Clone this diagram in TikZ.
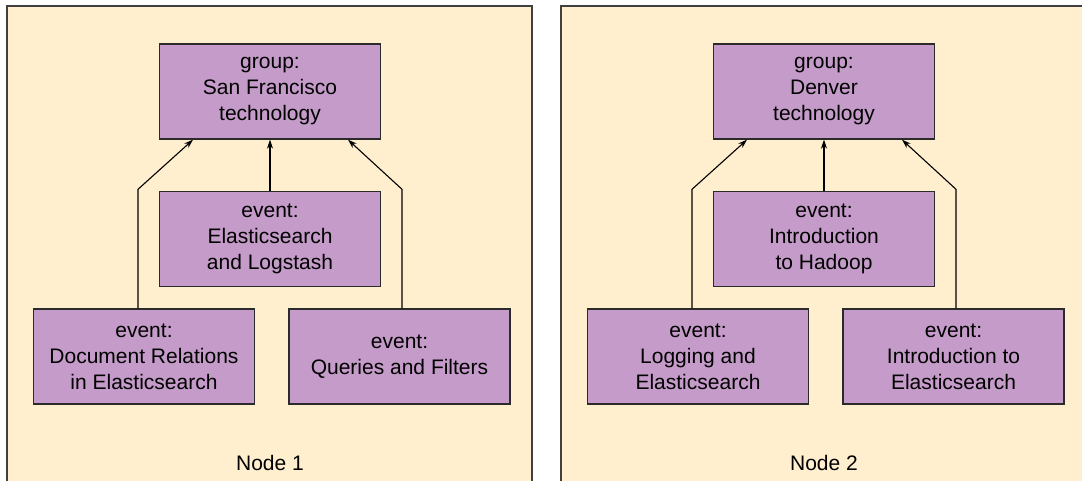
\documentclass[tikz,border=0pt]{standalone}
\usepackage{fontspec}
\setmainfont{Liberation Sans}
\usetikzlibrary{arrows.meta}
\definecolor{panel-bg}{HTML}{FFEFCF}
\definecolor{panel-line}{HTML}{404040}
\definecolor{box-fill}{HTML}{C59BC9}
\definecolor{box-line}{HTML}{2B2B2B}

\begin{document}
\begin{tikzpicture}[x=1pt, y=-1pt,
      every node/.style={font=\fontsize{21pt}{26pt}\selectfont},
      panel/.style={draw=panel-line, line width=2pt, fill=panel-bg},
      evbox/.style={draw=box-line, line width=1.4pt, fill=box-fill,
          minimum width=221pt, minimum height=95pt, align=center, inner sep=0pt},
      arr/.style={-{Stealth[length=9pt, width=6pt]}, line width=1.1pt}]
    \useasboundingbox (0,0) rectangle (1082,481);
    \clip (0,0) rectangle (1082,481);
    % two cluster nodes
    \draw[panel] (7,6) rectangle (532,500);
    \draw[panel] (561,6) rectangle (1090,500);

    % node 1
    \node[evbox] (grpSF) at (270,91.5) {group:\\San Francisco\\technology};
    \node[evbox] (evELK) at (270,239) {event:\\Elasticsearch\\and Logstash};
    \node[evbox] (evDoc) at (144,356.5) {event:\\Document Relations\\in Elasticsearch};
    \node[evbox] (evQF) at (399.5,356.5) {event:\\Queries and Filters};
    \node (lblA) at (270,463) {Node 1};
    \draw[arr] ([xshift=-6pt]evDoc.north) -- ++(0,-119) -- ([xshift=-77pt]grpSF.south);
    \draw[arr] (evELK.north) -- (grpSF.south);
    \draw[arr] ([xshift=2.5pt]evQF.north) -- ++(0,-119) -- ([xshift=78pt]grpSF.south);

    % node 2
    \node[evbox] (grpDen) at (824,91.5) {group:\\Denver\\technology};
    \node[evbox] (evHad) at (824,239) {event:\\Introduction\\to Hadoop};
    \node[evbox] (evLog) at (698,356.5) {event:\\Logging and\\Elasticsearch};
    \node[evbox] (evIntro) at (953.5,356.5) {event:\\Introduction to\\Elasticsearch};
    \node (lblB) at (824,463) {Node 2};
    \draw[arr] ([xshift=-6pt]evLog.north) -- ++(0,-119) -- ([xshift=-77pt]grpDen.south);
    \draw[arr] (evHad.north) -- (grpDen.south);
    \draw[arr] ([xshift=2.5pt]evIntro.north) -- ++(0,-119) -- ([xshift=78pt]grpDen.south);
\end{tikzpicture}
\end{document}
